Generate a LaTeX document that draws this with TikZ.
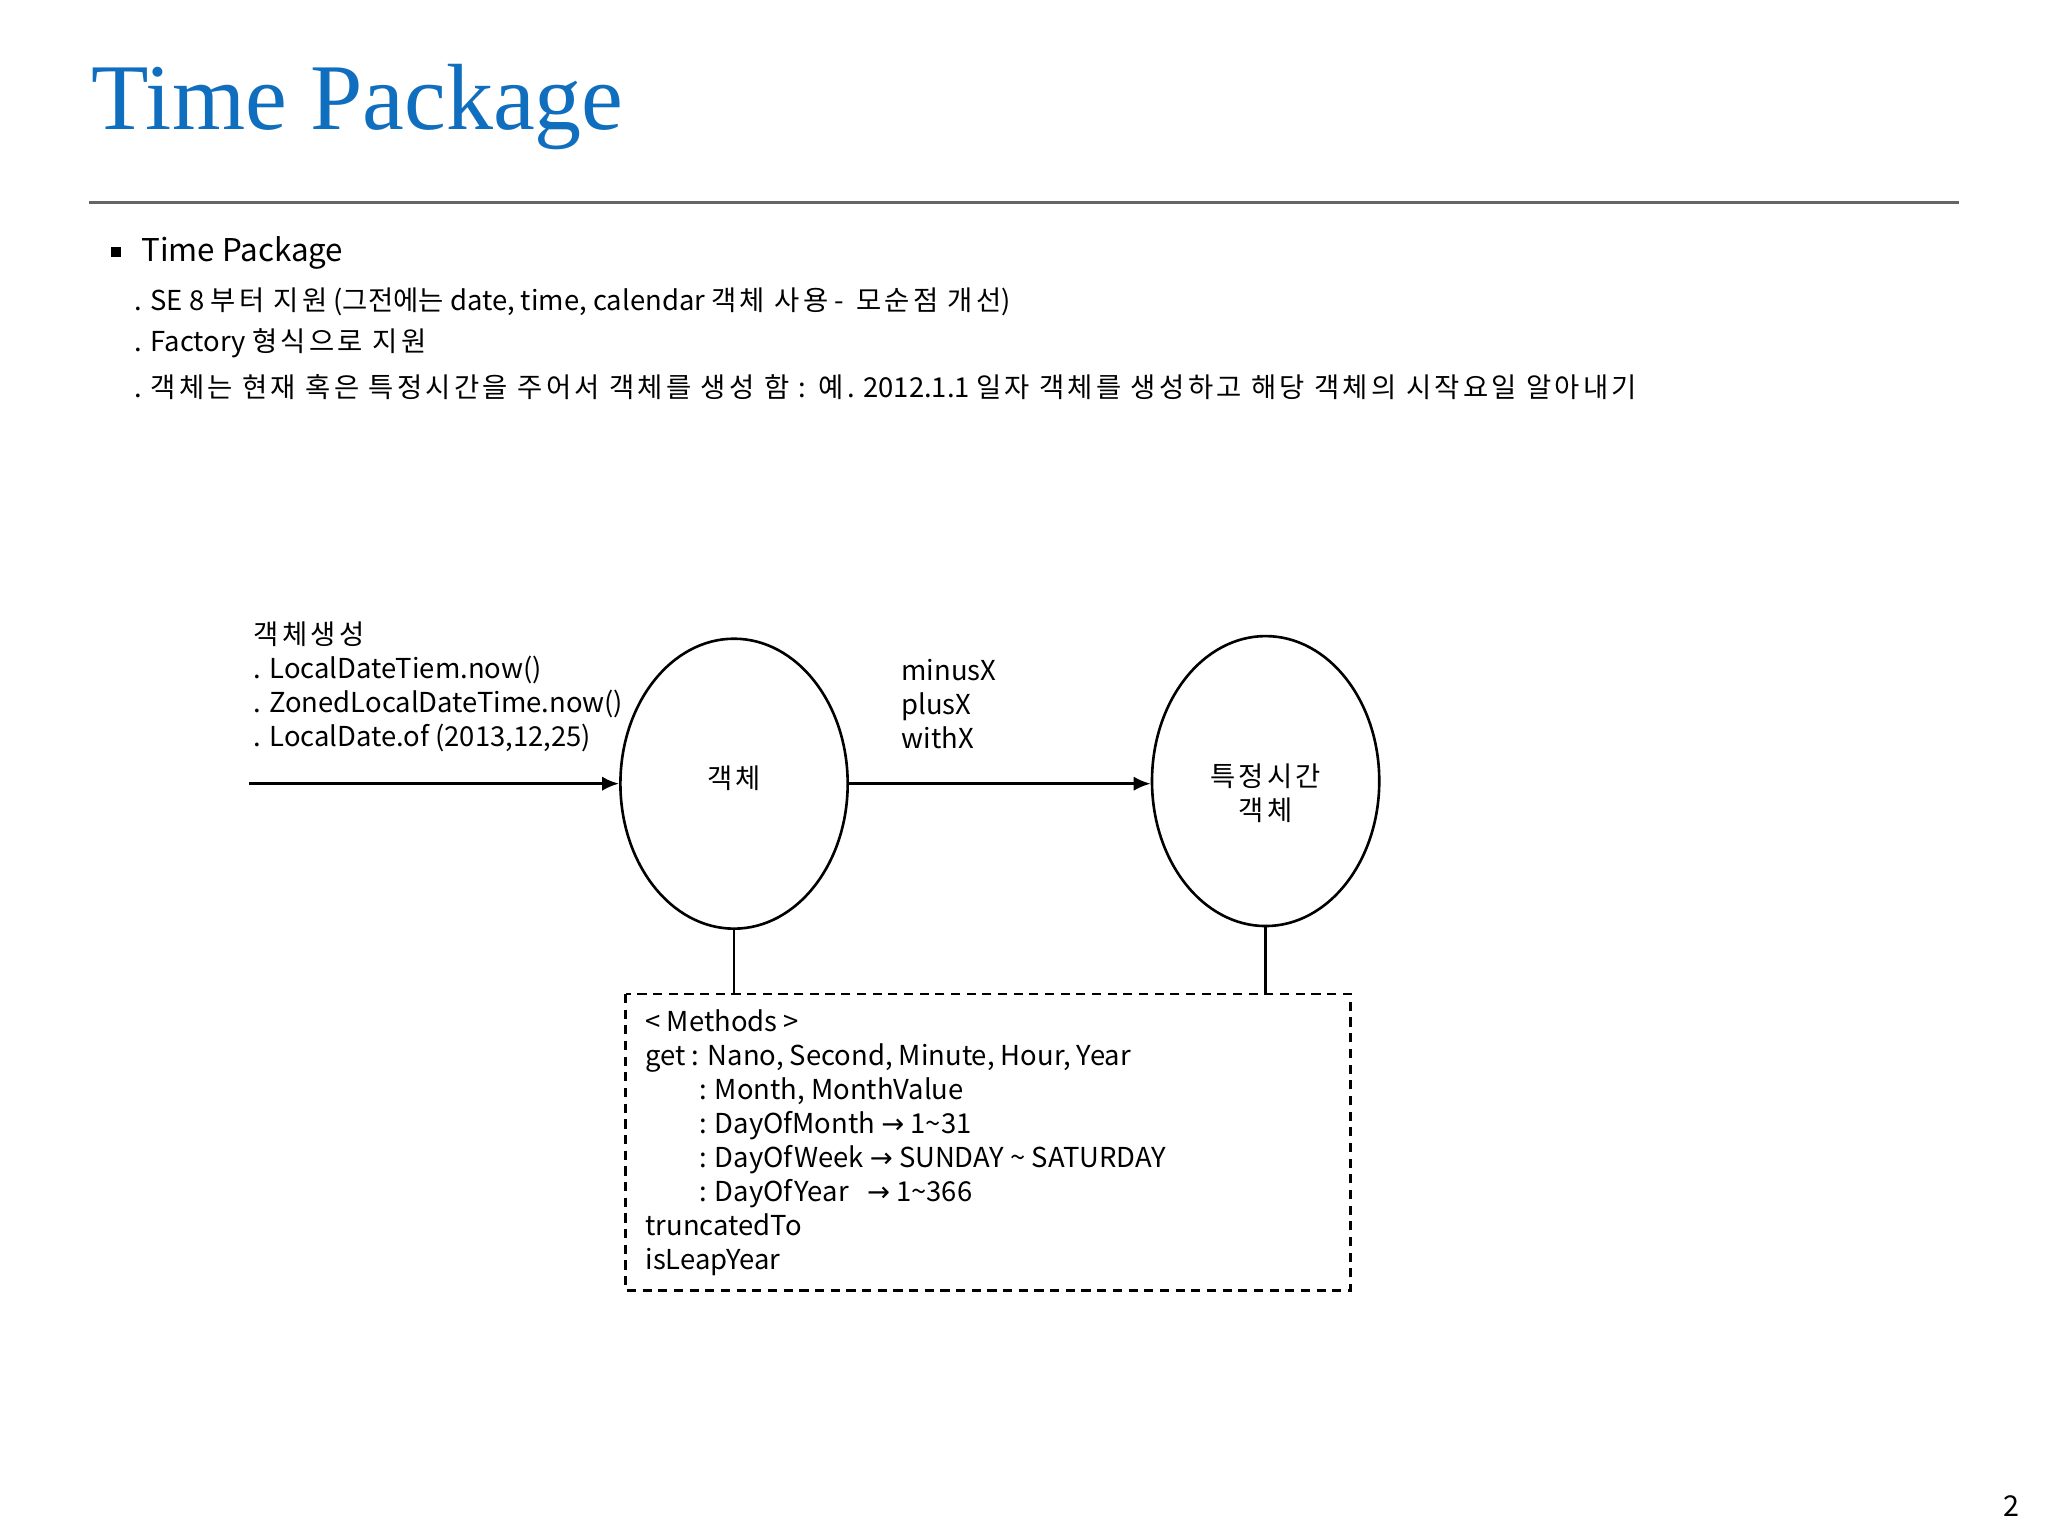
\documentclass[tikz,border=0pt]{standalone}
\usepackage{fontspec}
\setmainfont{Noto Sans CJK KR}
\newfontfamily\spaced[LetterSpace=12]{Noto Sans CJK KR}
\newfontfamily\titlefont{Liberation Serif}
\newfontfamily\dv{DejaVu Sans}
\usetikzlibrary{arrows.meta,shapes.geometric}
\definecolor{titleblue}{RGB}{16,110,190}
\begin{document}
\begin{tikzpicture}[x=1pt,y=-1pt,
  txt/.style={anchor=west,inner sep=0pt,font=\fontsize{21}{26}\selectfont},
  oval/.style={draw,line width=2pt,ellipse,minimum width=174pt,minimum height=222pt,inner sep=0pt},
  arr/.style={line width=2.2pt,-{Latex[length=13pt,width=11pt]}},
  ln/.style={line width=2.2pt}]
\useasboundingbox (0,0) rectangle (1568,1176);
\fill[white] (0,0) rectangle (1568,1176);
\node[anchor=west,inner sep=0pt,text=titleblue,font=\titlefont\fontsize{72}{78}\selectfont] (title) at (70,82) {Time Package};
\draw[gray!80!black,line width=1.6pt] (68,155) coordinate (r1) -- (1500,155) coordinate (r2);
\fill (85,189) rectangle (93,197);
\node[txt,font=\fontsize{24}{28}\selectfont] (h) at (108,194) {Time Package};
\node[txt] (l1) at (103,231) {. SE 8 {\spaced 부터 지원} (그전에는 date, time, calendar {\spaced 객체 사용} -\ \ {\spaced 모순점 개선})};
\node[txt] (l2) at (103,263) {. Factory {\spaced 형식으로 지원}};
\node[txt] (l3) at (103,296) {. {\spaced 객체는 현재 혹은 특정시간을 주어서 객체를 생성 함 : 예.} 2012.1.1 {\spaced 일자 객체를 생성하고 해당 객체의 시작요일 알아내기}};
\node[txt,align=left] (create) at (194,526) {{\spaced 객체생성}\\. LocalDateTiem.now()\\. ZonedLocalDateTime.now()\\. LocalDate.of (2013,12,25)};
\node[oval] (o1) at (562,600) {};
\node[txt,anchor=center,font=\spaced\fontsize{21}{26}\selectfont] at (562,596) {객체};
\node[oval] (o2) at (969,598) {};
\node[txt,anchor=center,align=center,font=\spaced\fontsize{21}{26}\selectfont] at (969,607) {특정시간\\객체};
\node[txt,align=left] (m) at (690,539) {minusX\\plusX\\withX};
\coordinate (s) at (191,600);
\draw[arr] (s) -- (o1.west);
\draw[arr] (o1.east) -- (o2.west |- o1.east);
\draw[dash pattern=on 7pt off 5pt,line width=2pt] (479,761) rectangle (1034,988);
\coordinate (b1) at (562,761); \coordinate (b2) at (969,761);
\draw[ln] (o1.south) -- (b1);
\draw[ln] (o2.south) -- (b2);
\node[txt,align=left] (box) at (494,875) {\textless{} Methods \textgreater\\get : Nano, Second, Minute, Hour, Year\\\hspace*{41pt}: Month, MonthValue\\\hspace*{41pt}: DayOfMonth {\dv →} 1\textasciitilde31\\\hspace*{41pt}: DayOfWeek {\dv →} SUNDAY \textasciitilde{} SATURDAY\\\hspace*{41pt}: DayOfYear\ \ \ {\dv →} 1\textasciitilde366\\truncatedTo\\isLeapYear};
\node[txt,anchor=center,font=\fontsize{22}{26}\selectfont] (pg) at (1540,1153) {2};
\end{tikzpicture}
\end{document}
